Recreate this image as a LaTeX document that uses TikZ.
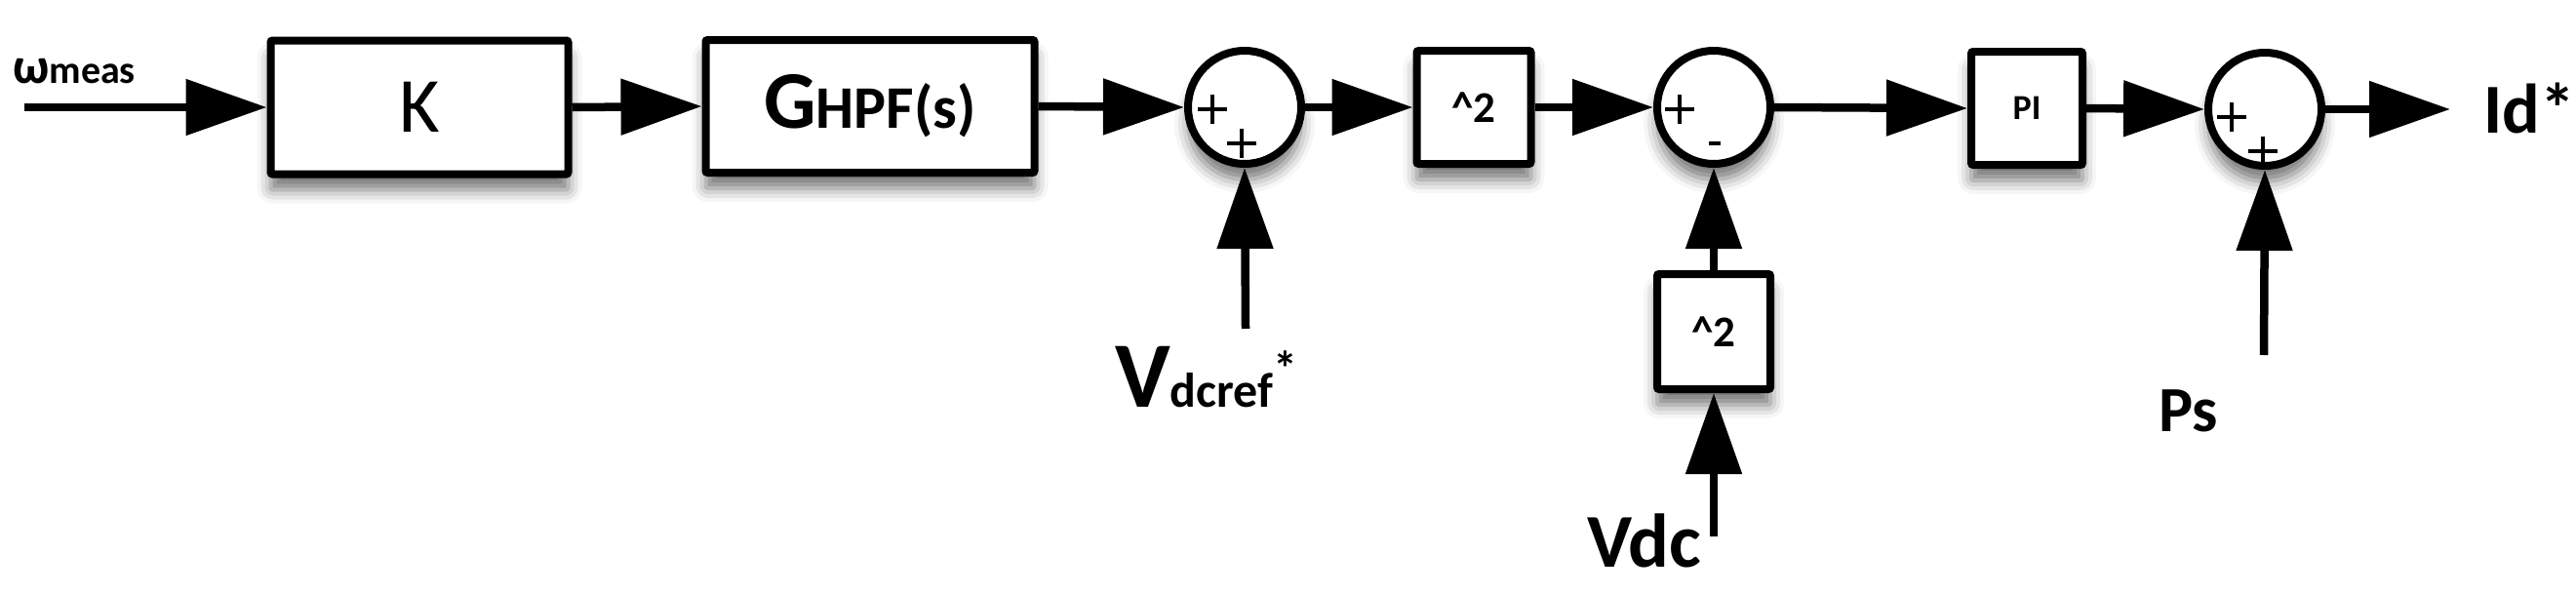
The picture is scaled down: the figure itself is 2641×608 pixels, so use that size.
\documentclass[tikz,border=0pt]{standalone}
\usepackage{fontspec}
\setmainfont{Carlito}
\usetikzlibrary{arrows.meta,shadows.blur}
\begin{document}
\begin{tikzpicture}[x=1pt,y=-1pt,
  shd/.style={blur shadow={shadow xshift=0pt,shadow yshift=-16pt,shadow blur radius=14pt,shadow opacity=55}},
  blk/.style={draw,line width=8pt,fill=white,rounded corners=2pt,inner sep=0pt,shd},
  sum/.style={draw,circle,line width=8pt,fill=white,minimum size=116pt,inner sep=0pt,shd},
  con/.style={line width=8.5pt,-{Triangle[length=83pt,width=56pt]}},
  sg/.style={line width=4pt}]
\useasboundingbox (0,0) rectangle (2641,608);
\node[blk,minimum width=305pt,minimum height=137pt] (k) at (430,110) {\fontsize{80}{80}\selectfont K};
\node[blk,minimum width=337pt,minimum height=136pt] (g) at (892,109) {\bfseries\fontsize{84}{84}\selectfont G\fontsize{62}{62}\selectfont HPF(s)};
\node[sum] (s1) at (1276,110) {};
\node[blk,minimum width=117pt,minimum height=116pt] (q1) at (1511,110) {\bfseries\fontsize{45}{45}\selectfont \^{}2};
\node[sum] (s2) at (1757,110) {};
\node[blk,minimum width=114pt,minimum height=116pt] (pi) at (2078,111) {\bfseries\fontsize{36}{36}\selectfont PI};
\node[sum] (s3) at (2322,112) {};
\node[blk,minimum width=116pt,minimum height=118pt] (q2) at (1757,340) {\bfseries\fontsize{45}{45}\selectfont \^{}2};
% signs
\draw[sg] (1228,112)--(1258,112) (1243,97)--(1243,127);
\draw[sg] (1258,147)--(1288,147) (1273,132)--(1273,162);
\draw[sg] (1707,112)--(1737,112) (1722,97)--(1722,127);
\draw[sg] (1752,147)--(1764,147);
\draw[sg] (2273,120)--(2303,120) (2288,105)--(2288,135);
\draw[sg] (2305,155)--(2335,155) (2320,140)--(2320,170);
% coordinates
\coordinate (win) at (25,110);
\coordinate (vref) at (1277,337);
\coordinate (vdc) at (1757,550);
\coordinate (ps) at (2321,364);
\coordinate (out) at (2512,112);
% connectors
\draw[con] (win) -- (k.west);
\draw[con] (k.east) -- (g.west);
\draw[con] (g.east) -- (s1.west);
\draw[con] (s1.east) -- (q1.west);
\draw[con] (q1.east) -- (s2.west);
\draw[con] (s2.east) -- (pi.west);
\draw[con] (pi.east) -- (s3.west);
\draw[con] (s3.east) -- (out);
\draw[con] (vref) -- (s1.south);
\draw[con] (q2.north) -- (s2.south);
\draw[con] (vdc) -- (q2.south);
\draw[con] (ps) -- (s3.south);
% labels
\node[anchor=base west,inner sep=0pt] (lw) at (13,85) {\bfseries\fontsize{52}{52}\selectfont ω\fontsize{40}{40}\selectfont meas};
\node[anchor=base west,inner sep=0pt] (lv) at (1143,417) {\bfseries\fontsize{96}{96}\selectfont V\fontsize{50}{50}\selectfont dcref\raisebox{22pt}{*}};
\node[anchor=base west,inner sep=0pt] (lvdc) at (1627,581) {\bfseries\fontsize{78}{78}\selectfont Vdc};
\node[anchor=base west,inner sep=0pt] (lps) at (2213,442) {\bfseries\fontsize{66}{66}\selectfont Ps};
\node[anchor=base west,inner sep=0pt] (lid) at (2546,136) {\bfseries\fontsize{72}{72}\selectfont Id*};
\end{tikzpicture}
\end{document}
